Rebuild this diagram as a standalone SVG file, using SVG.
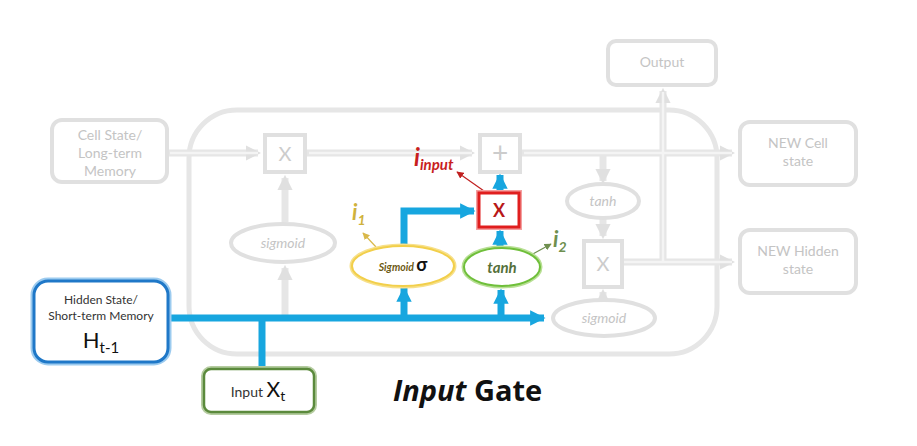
<svg xmlns="http://www.w3.org/2000/svg" width="917" height="446" viewBox="0 0 917 446">
<defs>
<style>
.gbox{fill:#fff;stroke:#e0e0e0;stroke-width:4}
.gt{font-family:Lato,"Liberation Sans",sans-serif;fill:#c4c4c4;font-size:14px;text-anchor:middle}
.gx{font-family:Lato,"Liberation Sans",sans-serif;fill:#cccccc;font-size:20px;text-anchor:middle}
.gp{font-family:Lato,"Liberation Sans",sans-serif;fill:#cccccc;font-size:28px;text-anchor:middle}
.gti{font-family:Lato,"Liberation Sans",sans-serif;fill:#c4c4c4;font-size:14px;font-style:italic;text-anchor:middle}
.gl{fill:none;stroke:#e6e6e6;stroke-width:7}
.gli{fill:none;stroke:#f4f4f4;stroke-width:2.5}
.bl{fill:none;stroke:#17a6df;stroke-width:7}
</style>
<marker id="ga" viewBox="0 0 10 10" refX="8" refY="5" markerWidth="2.2" markerHeight="2.6" orient="auto" markerUnits="strokeWidth"><path d="M0,0L10,5L0,10z" fill="#e0e0e0"/></marker>
<marker id="ba" viewBox="0 0 10 10" refX="9" refY="5" markerWidth="2.2" markerHeight="2.2" orient="auto" markerUnits="strokeWidth"><path d="M0,0L10,5L0,10z" fill="#17a6df"/></marker>
<marker id="ra" viewBox="0 0 10 10" refX="9" refY="5" markerWidth="6" markerHeight="6" orient="auto" markerUnits="strokeWidth"><path d="M0,0L10,5L0,10z" fill="#c02020"/></marker>
<marker id="ya" viewBox="0 0 10 10" refX="9" refY="5" markerWidth="6" markerHeight="6" orient="auto" markerUnits="strokeWidth"><path d="M0,0L10,5L0,10z" fill="#d9b84a"/></marker>
<marker id="gra" viewBox="0 0 10 10" refX="9" refY="5" markerWidth="6" markerHeight="6" orient="auto" markerUnits="strokeWidth"><path d="M0,0L10,5L0,10z" fill="#6f8f4f"/></marker>
</defs>
<rect width="917" height="446" fill="#fff"/>

<g id="cell">
<rect x="189" y="110" width="528" height="244" rx="48" fill="none" stroke="#e6e6e6" stroke-width="5"/>
</g>

<g id="connectors">
<g id="grey-connectors">
<path class="gl" d="M168,153H258" marker-end="url(#ga)"/>
<path class="gl" d="M307,153H472" marker-end="url(#ga)"/>
<path class="gl" d="M522,153H732" marker-end="url(#ga)"/>
<path class="gl" d="M285,222V178" marker-end="url(#ga)"/>
<path class="gl" d="M285,316V268" marker-end="url(#ga)"/>
<path class="gl" d="M603,155V181" marker-end="url(#ga)"/>
<path class="gl" d="M603,219V236" marker-end="url(#ga)"/>
<path class="gl" d="M603,300V292" marker-end="url(#ga)"/>
<path class="gl" d="M623,262H732" marker-end="url(#ga)"/>
<path class="gl" d="M663,262V91" marker-end="url(#ga)"/>
<path class="gli" d="M170,153H258M309,153H472M524,153H732M623,262H732M663,262V92"/>
</g>
<g id="blue-connectors">
<path class="bl" d="M168,318H544" marker-end="url(#ba)"/>
<path class="bl" d="M262,318V368"/>
<path class="bl" d="M404,318V288" marker-end="url(#ba)"/>
<path class="bl" d="M501,318V290" marker-end="url(#ba)"/>
<path class="bl" d="M404,245V211H474" marker-end="url(#ba)"/>
<path class="bl" d="M500,246V231" marker-end="url(#ba)"/>
<path class="bl" d="M500,191V175" marker-end="url(#ba)"/>
</g>
<path d="M484,191L457,172" stroke="#c02020" stroke-width="1.2" fill="none" marker-end="url(#ra)"/>
<path d="M376,247L363,233" stroke="#d9b84a" stroke-width="1.2" fill="none" marker-end="url(#ya)"/>
<path d="M531,255L551,244" stroke="#6f8f4f" stroke-width="1.2" fill="none" marker-end="url(#gra)"/>
</g>

<g id="cell-state">
<rect class="gbox" x="52" y="120" width="115" height="62" rx="10"/>
<text class="gt" x="110" y="140">Cell State/</text>
<text class="gt" x="110" y="158">Long-term</text>
<text class="gt" x="110" y="176">Memory</text>
</g>
<g id="forget-x">
<rect class="gbox" x="265" y="135" width="40" height="37"/>
<text class="gx" x="285" y="161">X</text>
</g>
<g id="forget-sigmoid">
<ellipse class="gbox" cx="283" cy="243" rx="52" ry="19"/>
<text class="gti" x="283" y="248">sigmoid</text>
</g>
<g id="plus">
<rect class="gbox" x="480" y="135" width="40" height="37"/>
<text class="gp" x="500" y="163">+</text>
</g>
<g id="output">
<rect class="gbox" x="608" y="41" width="108" height="44" rx="8"/>
<text class="gt" x="662" y="67">Output</text>
</g>
<g id="new-cell">
<rect class="gbox" x="740" y="122" width="116" height="63" rx="10"/>
<text class="gt" x="798" y="148">NEW Cell</text>
<text class="gt" x="798" y="166">state</text>
</g>
<g id="new-hidden">
<rect class="gbox" x="740" y="230" width="116" height="63" rx="10"/>
<text class="gt" x="798" y="256">NEW Hidden</text>
<text class="gt" x="798" y="274">state</text>
</g>
<g id="out-tanh">
<ellipse class="gbox" cx="603" cy="201" rx="36" ry="17"/>
<text class="gti" x="603" y="206">tanh</text>
</g>
<g id="out-x">
<rect class="gbox" x="584" y="241" width="38" height="46"/>
<text class="gx" x="603" y="271">X</text>
</g>
<g id="out-sigmoid">
<ellipse class="gbox" cx="604" cy="318" rx="51" ry="18"/>
<text class="gti" x="604" y="323">sigmoid</text>
</g>

<g id="hidden-state">
<rect x="34" y="281" width="134" height="81" rx="14" fill="#fff" stroke="#9ccbef" stroke-width="7"/>
<rect x="34" y="281" width="134" height="81" rx="14" fill="#fff" stroke="#1f78c8" stroke-width="3"/>
<text x="101" y="304" font-family="Lato,'Liberation Sans',sans-serif" font-size="12" fill="#333" text-anchor="middle">Hidden State/</text>
<text x="101" y="320" font-family="Lato,'Liberation Sans',sans-serif" font-size="12" fill="#333" text-anchor="middle">Short-term  Memory</text>
<text x="101" y="348" font-family="Lato,'Liberation Sans',sans-serif" font-size="22" fill="#111" text-anchor="middle">H<tspan font-size="15" dy="5">t-1</tspan></text>
</g>
<g id="input-x">
<rect x="204" y="369" width="110" height="43" rx="7" fill="#fff" stroke="#b5cca0" stroke-width="6"/>
<rect x="204" y="369" width="110" height="43" rx="7" fill="#fff" stroke="#5b8a3c" stroke-width="2.5"/>
<text x="258" y="397" font-family="Lato,'Liberation Sans',sans-serif" font-size="14" fill="#333" text-anchor="middle">Input <tspan font-size="21" fill="#111">X</tspan><tspan font-size="14" fill="#111" dy="4">t</tspan></text>
</g>

<g id="sigmoid-input">
<ellipse cx="403" cy="266" rx="51" ry="20" fill="#fff" stroke="#f7e08a" stroke-width="5"/>
<ellipse cx="403" cy="266" rx="51" ry="20" fill="#fff" stroke="#f2cf4a" stroke-width="2"/>
<text x="403" y="271" font-family="Lato,'Liberation Sans',sans-serif" text-anchor="middle"><tspan font-size="10.5" font-style="italic" font-weight="bold" fill="#6d5a14">Sigmoid </tspan><tspan font-size="18" font-weight="bold" fill="#111">σ</tspan></text>
</g>
<g id="tanh-input">
<ellipse cx="502" cy="267" rx="38" ry="19" fill="#fff" stroke="#b8df94" stroke-width="5"/>
<ellipse cx="502" cy="267" rx="38" ry="19" fill="#fff" stroke="#6fbf3a" stroke-width="2"/>
<text x="502" y="273" font-family="Lato,'Liberation Sans',sans-serif" font-size="15" font-style="italic" font-weight="bold" fill="#55703a" text-anchor="middle">tanh</text>
</g>
<g id="input-mult">
<rect x="479" y="193" width="40" height="34" fill="#fff" stroke="#f4a0a0" stroke-width="6"/>
<rect x="479" y="193" width="40" height="34" fill="#fff" stroke="#e01e1e" stroke-width="3"/>
<text x="499" y="217" font-family="Lato,'Liberation Sans',sans-serif" font-size="18" font-weight="bold" fill="#b81818" text-anchor="middle">X</text>
</g>

<g id="labels">
<text x="414" y="166" font-family="Lato,'Liberation Sans',sans-serif" font-style="italic" font-weight="bold" fill="#c81e1e"><tspan font-size="24">i</tspan><tspan font-size="15" dy="4">input</tspan></text>
<text x="352" y="220" font-family="Lato,'Liberation Sans',sans-serif" font-style="italic" font-weight="bold" fill="#cfb23c"><tspan font-size="22">i</tspan><tspan font-size="14" dy="5">1</tspan></text>
<text x="553" y="247" font-family="Lato,'Liberation Sans',sans-serif" font-style="italic" font-weight="bold" fill="#6f8f4f"><tspan font-size="22">i</tspan><tspan font-size="14" dy="5">2</tspan></text>
<text x="393" y="401" font-family="'Open Sans','Liberation Sans',sans-serif" font-size="29" font-weight="bold" fill="#111"><tspan font-style="italic">Input</tspan> Gate</text>
</g>
</svg>
